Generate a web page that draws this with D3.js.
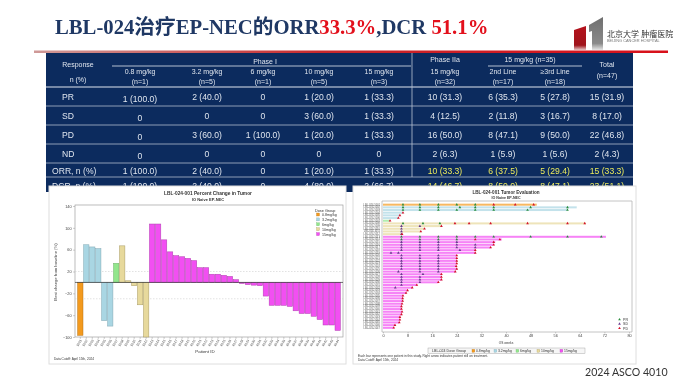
<!DOCTYPE html>
<html lang="zh">

<head>
    <meta charset="UTF-8">
    <title>LBL-024 EP-NEC</title>
    <script src="https://d3js.org/d3.v7.min.js"></script>
    <style>
        html, body { margin: 0; padding: 0; background: #fff; overflow: hidden; }
        svg { display: block; filter: blur(0.35px); }
        text { font-family: "Liberation Sans", "Noto Sans CJK SC", sans-serif; }
    </style>
</head>

<body>
    <script>
        // Table
        const tableColumns = ['0.8', '3.2', '6', '10', '15', 'IIa', '2L', '3L', 'Total'];
        const columnHeads = [
            ['0.8 mg/kg', '(n=1)'], ['3.2 mg/kg', '(n=5)'], ['6 mg/kg', '(n=1)'], ['10 mg/kg', '(n=5)'],
            ['15 mg/kg', '(n=3)'], ['15 mg/kg', '(n=32)'], ['2nd Line', '(n=17)'], ['≥3rd Line', '(n=18)'], ['Total', '(n=47)']
        ];
        const tableRowNames = ['PR', 'SD', 'PD', 'ND', 'ORR, n (%)', 'DCR, n (%)'];
        const rowPR = ['1 (100.0)', '2 (40.0)', '0', '1 (20.0)', '1 (33.3)', '10 (31.3)', '6 (35.3)', '5 (27.8)', '15 (31.9)'];
        const rowSD = ['0', '0', '0', '3 (60.0)', '1 (33.3)', '4 (12.5)', '2 (11.8)', '3 (16.7)', '8 (17.0)'];
        const rowPD = ['0', '3 (60.0)', '1 (100.0)', '1 (20.0)', '1 (33.3)', '16 (50.0)', '8 (47.1)', '9 (50.0)', '22 (46.8)'];
        const rowND = ['0', '0', '0', '0', '0', '2 (6.3)', '1 (5.9)', '1 (5.6)', '2 (4.3)'];
        const rowORR = ['1 (100.0)', '2 (40.0)', '0', '1 (20.0)', '1 (33.3)', '10 (33.3)', '6 (37.5)', '5 (29.4)', '15 (33.3)'];
        const rowDCR = ['1 (100.0)', '2 (40.0)', '0', '4 (80.0)', '2 (66.7)', '14 (46.7)', '8 (50.0)', '8 (47.1)', '23 (51.1)'];
        const tableRows = [rowPR, rowSD, rowPD, rowND, rowORR, rowDCR];

        // Waterfall (best change, %)
        const doseGroups = ['0.8mg/kg', '3.2mg/kg', '6mg/kg', '10mg/kg', '15mg/kg'];
        const bestChange = [-97, 69, 65, 62, -70, -80, 35, 67, 3, -6, -41, -100,
            107, 107, 78, 56, 49, 47, 44, 40, 27, 27, 15, 15, 13, 11, 5, -2, -4, -5, -6, -25,
            -42, -42, -42, -44, -52, -57, -57, -62, -68, -78, -78, -88];
        const bestDose = [0, 1, 1, 1, 1, 1, 2, 3, 3, 3, 3, 3,
            4, 4, 4, 4, 4, 4, 4, 4, 4, 4, 4, 4, 4, 4, 4, 4, 4, 4, 4, 4,
            4, 4, 4, 4, 4, 4, 4, 4, 4, 4, 4, 4];
        const yTicks = [-100, -60, -20, 20, 60, 100, 140];
        // the id labels cannot be read in the picture, these are stand-ins
        const patientIds = ['1001', '1002', '1003', '1004', '1005', '1006', '1007', '1008', '1009', '1010', '1011', '1012',
            '1013', '1014', '1015', '1016', '1017', '1018', '1019', '1020', '1021', '1022', '1023', '1024',
            '1025', '1026', '1027', '1028', '1029', '1030', '1031', '1032', '1033', '1034', '1035', '1036',
            '1037', '1038', '1039', '1040', '1041', '1042', '1043', '1044', '1045', '1046', '1047'];

        // Swimmer plot (weeks), row by row
        const swimWeeks = [50, 63, 60, 6.5, 5.5, 5, 2.3, 66, 19, 13.5, 12.3, 6.2,
            72.5, 38.6, 36.5, 36, 35, 30, 30, 24, 24, 24, 24, 23.8, 24, 23.5,
            19, 19, 19, 18, 11, 9.5, 8, 7.5, 6.5, 6.4, 6.4, 6.2, 6, 6, 6.2, 6, 5.5, 5.5, 5.3, 3.9, 3.5];
        const swimDose = [0, 1, 1, 1, 1, 1, 2, 3, 3, 3, 3, 3,
            4, 4, 4, 4, 4, 4, 4, 4, 4, 4, 4, 4, 4, 4, 4, 4, 4, 4, 4, 4, 4, 4, 4,
            4, 4, 4, 4, 4, 4, 4, 4, 4, 4, 4, 4];
        const marksPR = [[0, [6.5, 12, 18, 24, 30]], [1, [6.5, 12, 18, 25, 30, 36, 48, 60]], [2, [6.5, 12, 18, 24, 30, 36, 47, 60]],
            [7, [6.5, 13, 18.5]], [12, [6, 12, 18, 24, 30, 36, 48, 60, 71]], [13, [6, 12, 18, 24]]];
        const marksSD = [[8, [6, 12]], [9, [6]], [10, [6]], [11, [6]],
            [14, [6, 12, 18, 24]], [15, [6, 12, 18, 24, 30]], [16, [6, 12, 18, 24, 30]], [17, [6, 12, 18, 25]], [18, [2.6, 5]],
            [19, [6, 12, 18]], [20, [6, 12, 18]], [21, [6, 12, 18]], [22, [6, 12, 18]], [23, [6, 12, 18]], [24, [6, 12, 18]], [25, [5, 12, 18]],
            [26, [6, 13]], [27, [6, 12]], [28, [6, 12]], [29, [6, 12]], [30, [6]], [31, [4]]];
        const marksPD = [[0, [36, 43, 49]], [3, [6.5]], [4, [5.5]], [5, [5]], [6, [2.3]],
            [7, [23.4, 28, 35, 47, 60, 65.6]], [8, [19]], [9, [13.5]], [10, [12.3]], [11, [6.2]],
            [13, [30, 38]], [14, [36]], [15, [36]], [16, [35]], [17, [30]], [18, [30]], [19, [24]], [20, [24]], [21, [24]], [22, [24]], [23, [23.8]], [24, [24]], [25, [23.5]],
            [26, [19]], [27, [19]], [28, [19]], [29, [18]], [30, [11]], [31, [9.5]], [32, [8]], [33, [7.5]], [34, [6.5]], [35, [6.4]], [36, [6.4]],
            [37, [6.2]], [38, [6]], [39, [6]], [40, [6.2]], [41, [6]], [42, [5.5]], [43, [5.5]], [44, [5.3]], [45, [3.9]], [46, [3.5]]];
        const weekTicks = [0, 8, 16, 24, 32, 40, 48, 56, 64, 72, 80];
        const responseNames = ['PR', 'SD', 'PD'];

        const doseColor = d3.scaleOrdinal().domain(d3.range(5)).range(['#f39a1e', '#a9d6e3', '#92e68c', '#e7d99c', '#f24ff2']);
        const doseStroke = d3.scaleOrdinal().domain(d3.range(5)).range(['#b8741a', '#83a8b4', '#6fb26a', '#a89a62', '#b040b0']);
        const responseColor = d3.scaleOrdinal().domain(responseNames).range(['#2a8c3c', '#6a3d8f', '#d3122a']);

        const svg = d3.select('body').append('svg')
            .attr('width', 687)
            .attr('height', 383);

        const defs = svg.append('defs');
        const ruleGrad = defs.append('linearGradient').attr('id', 'ruleGrad');
        ruleGrad.append('stop').attr('offset', '0').attr('stop-color', '#cf9a98');
        ruleGrad.append('stop').attr('offset', '0.45').attr('stop-color', '#c8282c');
        ruleGrad.append('stop').attr('offset', '1').attr('stop-color', '#d8101a');
        const logoGrad = defs.append('linearGradient').attr('id', 'logoGrad').attr('x2', 0).attr('y2', 1);
        logoGrad.append('stop').attr('offset', '0').attr('stop-color', '#b5121c');
        logoGrad.append('stop').attr('offset', '0.8').attr('stop-color', '#a0141c');
        logoGrad.append('stop').attr('offset', '1').attr('stop-color', '#e6c8c8');
        const greyGrad = defs.append('linearGradient').attr('id', 'greyGrad').attr('x2', 0).attr('y2', 1);
        greyGrad.append('stop').attr('offset', '0').attr('stop-color', '#6f6f6f');
        greyGrad.append('stop').attr('offset', '0.8').attr('stop-color', '#8a8a8a');
        greyGrad.append('stop').attr('offset', '1').attr('stop-color', '#e6e6e6');

        // Slide title
        const title = svg.append('text')
            .attr('x', 55)
            .attr('y', 34)
            .attr('font-size', 20.7)
            .attr('font-weight', 'bold')
            .style('font-family', '"Liberation Serif", "Noto Sans CJK SC", serif')
            .attr('fill', '#1f3864');
        title.append('tspan').text('LBL-024治疗EP-NEC的ORR');
        title.append('tspan').attr('fill', '#e3101c').text('33.3%');
        title.append('tspan').text(',DCR ');
        title.append('tspan').attr('fill', '#e3101c').text('51.1%');

        // Logo
        svg.append('path').attr('d', 'M574 30L586 26V50H574Z').attr('fill', 'url(#logoGrad)');
        svg.append('path').attr('d', 'M589 25L603 17V50H592V31L589 32Z').attr('fill', 'url(#greyGrad)');
        svg.append('text').attr('x', 607).attr('y', 37).attr('font-size', 8).attr('fill', '#333').text('北京大学 肿瘤医院');
        svg.append('text').attr('x', 607).attr('y', 42).attr('font-size', 3.9).attr('fill', '#777').text('BEIJING CANCER HOSPITAL');

        // Red rule
        svg.append('rect').attr('x', 34).attr('y', 50.5).attr('width', 634).attr('height', 2.5).attr('fill', 'url(#ruleGrad)');

        // Table
        const columnX = d3.scaleOrdinal().domain(tableColumns).range([140, 207, 263, 319, 379, 445, 503, 555, 607]);
        const rowY = d3.scaleOrdinal().domain(tableRowNames).range([97, 116, 134.5, 154, 171, 185.5]);
        const table = svg.append('g');
        table.append('rect').attr('x', 46).attr('y', 53).attr('width', 587).attr('height', 139).attr('fill', '#0c2b5e');
        table.selectAll('line.sep')
            .data([87, 106, 125, 144, 163, 177])
            .enter()
            .append('line')
            .attr('x1', 46)
            .attr('x2', 633)
            .attr('y1', d => d)
            .attr('y2', d => d)
            .attr('stroke', (d, i) => i === 0 ? '#dfe6ef' : '#8d9db5')
            .attr('stroke-width', 1);
        table.append('line').attr('x1', 412).attr('x2', 412).attr('y1', 53).attr('y2', 177).attr('stroke', '#b9c4d4').attr('stroke-width', 0.8);
        table.append('line').attr('x1', 112).attr('x2', 411).attr('y1', 66).attr('y2', 66).attr('stroke', '#dfe6ef').attr('stroke-width', 0.8);
        table.append('line').attr('x1', 488).attr('x2', 582).attr('y1', 66).attr('y2', 66).attr('stroke', '#dfe6ef').attr('stroke-width', 0.8);

        const headText = (x, y, s) => table.append('text')
            .attr('x', x).attr('y', y)
            .attr('text-anchor', 'middle')
            .attr('font-size', 7)
            .attr('fill', '#dfe5ee')
            .text(s);
        headText(78, 67, 'Response');
        headText(78, 82, 'n (%)');
        headText(265, 64, 'Phase I');
        headText(445, 62, 'Phase IIa');
        headText(530, 62, '15 mg/kg  (n=35)');
        columnHeads.forEach((h, i) => {
            const last = i === columnHeads.length - 1;
            headText(columnX(tableColumns[i]), last ? 67 : 74, h[0]);
            headText(columnX(tableColumns[i]), last ? 78 : 84, h[1]);
        });

        table.selectAll('text.rowname')
            .data(tableRowNames)
            .enter()
            .append('text')
            .attr('x', (d, i) => i < 4 ? 62 : 52)
            .attr('y', d => rowY(d))
            .attr('dy', '0.35em')
            .attr('font-size', 8.6)
            .attr('fill', '#dfe5ee')
            .text(d => d);

        tableRows.forEach((values, r) => {
            table.selectAll(null)
                .data(values)
                .enter()
                .append('text')
                .attr('x', (d, i) => columnX(tableColumns[i]))
                .attr('y', (d, i) => rowY(tableRowNames[r]) + (i === 0 && r < 4 ? 2 : 0))
                .attr('dy', '0.35em')
                .attr('text-anchor', 'middle')
                .attr('font-size', 8.6)
                .attr('fill', (d, i) => r >= 4 && i >= 5 ? '#ecea5c' : '#dfe5ee')
                .text(d => d);
        });

        // Cards for the two figures
        [[49, 186, 297, 178], [353, 186, 283, 178]].forEach(c => {
            svg.append('rect')
                .attr('x', c[0]).attr('y', c[1]).attr('width', c[2]).attr('height', c[3])
                .attr('fill', '#fff')
                .attr('stroke', '#dedede')
                .attr('stroke-width', 1);
        });

        // Waterfall
        const xBar = d3.scaleBand().domain(patientIds.slice(0, bestChange.length)).range([77, 341]).padding(0.1);
        const yBar = d3.scaleLinear().domain([-100, 140]).range([337, 206]);
        const fall = svg.append('g');

        fall.append('rect').attr('x', 75).attr('y', 205).attr('width', 268).attr('height', 132)
            .attr('fill', 'none').attr('stroke', '#a0a0a0').attr('stroke-width', 0.7);
        [20, -30].forEach(v => {
            fall.append('line')
                .attr('x1', 75).attr('x2', 343)
                .attr('y1', yBar(v)).attr('y2', yBar(v))
                .attr('stroke', '#cfcfcf').attr('stroke-width', 0.6).attr('stroke-dasharray', '1.5,1.5');
        });

        fall.selectAll('rect.bar')
            .data(bestChange)
            .enter()
            .append('rect')
            .attr('class', 'bar')
            .attr('x', (d, i) => xBar(patientIds[i]))
            .attr('y', d => yBar(Math.max(d, 0)))
            .attr('width', xBar.bandwidth())
            .attr('height', d => Math.abs(yBar(d) - yBar(0)))
            .attr('fill', (d, i) => doseColor(bestDose[i]))
            .attr('stroke', (d, i) => doseStroke(bestDose[i]))
            .attr('stroke-width', 0.5);
        fall.append('line').attr('x1', 75).attr('x2', 343).attr('y1', yBar(0)).attr('y2', yBar(0)).attr('stroke', '#333').attr('stroke-width', 0.7);

        const yAxisBar = d3.axisLeft(yBar).tickValues(yTicks).tickSize(2).tickPadding(1.5);
        const gy = fall.append('g').attr('transform', 'translate(75,0)').call(yAxisBar);
        gy.selectAll('text').attr('font-size', 3.8).attr('fill', '#444');
        gy.selectAll('line').attr('stroke', '#888').attr('stroke-width', 0.4);
        gy.select('.domain').remove();

        const xAxisBar = d3.axisBottom(xBar).tickSize(2).tickPadding(1);
        const gx = fall.append('g').attr('transform', 'translate(0,337)').call(xAxisBar);
        gx.selectAll('text')
            .attr('font-size', 3.4)
            .attr('fill', '#555')
            .attr('text-anchor', 'end')
            .attr('dy', '0.3em')
            .attr('transform', 'rotate(-60) translate(-2,-1)');
        gx.selectAll('line').attr('stroke', '#888').attr('stroke-width', 0.4);
        gx.select('.domain').remove();

        const small = (g, x, y, s, size, anchor, weight) => g.append('text')
            .attr('x', x).attr('y', y)
            .attr('font-size', size)
            .attr('text-anchor', anchor || 'start')
            .attr('font-weight', weight || 'normal')
            .attr('fill', '#333')
            .text(s);

        small(fall, 208, 195, 'LBL-024-001 Percent Change in Tumor', 4.8, 'middle', 'bold');
        small(fall, 208, 200.5, 'IO Naive EP-NEC', 4, 'middle', 'bold');
        small(fall, 205, 353, 'Patient ID', 4.4, 'middle');
        small(fall, 54, 360, 'Data Cutoff: April 15th, 2024', 3.2);
        fall.append('text')
            .attr('transform', 'translate(57,272) rotate(-90)')
            .attr('text-anchor', 'middle')
            .attr('font-size', 4.2)
            .attr('fill', '#444')
            .text('Best change from baseline (%)');

        small(fall, 315, 211.5, 'Dose Group', 3.8);
        doseGroups.forEach((d, i) => {
            fall.append('rect')
                .attr('x', 316.5).attr('y', 213 + i * 4.9).attr('width', 3).attr('height', 3)
                .attr('fill', doseColor(i)).attr('stroke', doseStroke(i)).attr('stroke-width', 0.3);
            small(fall, 322, 216 + i * 4.9, d, 3.6);
        });

        // Swimmer
        const xSwim = d3.scaleLinear().domain([0, 80]).range([383, 629]);
        const ySwim = d3.scaleBand().domain(d3.range(swimWeeks.length)).range([203, 329.5]).padding(0.25);
        const swim = svg.append('g');

        swim.append('path')
            .attr('d', 'M382 201H632V332H382Z')
            .attr('fill', 'none')
            .attr('stroke', '#b5b5b5')
            .attr('stroke-width', 0.8);

        swim.selectAll('rect.swim')
            .data(swimWeeks)
            .enter()
            .append('rect')
            .attr('class', 'swim')
            .attr('x', xSwim(0))
            .attr('y', (d, i) => ySwim(i))
            .attr('width', d => xSwim(d) - xSwim(0))
            .attr('height', ySwim.bandwidth())
            .attr('fill', (d, i) => doseColor(swimDose[i]))
            .attr('fill-opacity', 0.7);

        swim.selectAll('text.row')
            .data(patientIds)
            .enter()
            .append('text')
            .attr('x', 380)
            .attr('y', (d, i) => ySwim(i) + ySwim.bandwidth() / 2)
            .attr('dy', '0.35em')
            .attr('text-anchor', 'end')
            .attr('font-size', 2.6)
            .attr('fill', '#555')
            .text(d => 'LBL-024-' + d);

        const triangle = d3.symbol().type(d3.symbolTriangle).size(3.2);
        const marks = [['PR', marksPR], ['SD', marksSD], ['PD', marksPD]].flatMap(([name, rows]) =>
            rows.flatMap(([row, weeks]) => weeks.map(w => ({ name, row, w }))));
        swim.selectAll('path.mark')
            .data(marks)
            .enter()
            .append('path')
            .attr('class', 'mark')
            .attr('d', triangle)
            .attr('transform', d => `translate(${xSwim(d.w)},${ySwim(d.row) + ySwim.bandwidth() / 2})`)
            .attr('fill', d => responseColor(d.name));

        const xAxisSwim = d3.axisBottom(xSwim).tickValues(weekTicks).tickSize(1.5).tickPadding(1);
        const gs = swim.append('g').attr('transform', 'translate(0,332)').call(xAxisSwim);
        gs.selectAll('text').attr('font-size', 3.8).attr('fill', '#444');
        gs.selectAll('line').attr('stroke', '#888').attr('stroke-width', 0.4);
        gs.select('.domain').remove();

        small(swim, 506, 193.5, 'LBL-024-001 Tumor Evaluation', 4.6, 'middle', 'bold');
        small(swim, 506, 198.5, 'IO Naive EP-NEC', 3.6, 'middle', 'bold');
        small(swim, 506, 343.5, 'OS weeks', 3.2, 'middle');
        small(swim, 358, 357, 'Each bar represents one patient in this study. Right arrow indicates patient still on treatment.', 3.2);
        small(swim, 358, 361, 'Data Cutoff: April 15th, 2024', 3.2);

        responseNames.forEach((name, i) => {
            swim.append('path')
                .attr('d', triangle)
                .attr('transform', `translate(619.5,${319.5 + i * 4.4})`)
                .attr('fill', responseColor(name));
            small(swim, 623, 321 + i * 4.4, name, 3.6);
        });

        // Bottom dose legend
        swim.append('rect').attr('x', 428).attr('y', 348).attr('width', 157).attr('height', 5.5)
            .attr('fill', '#f6f6f6').attr('stroke', '#999').attr('stroke-width', 0.4);
        small(swim, 432, 352.2, 'LBL-024 Dose Group', 3.6);
        const legendX = d3.scaleOrdinal().domain(doseGroups).range([472, 494, 516, 537, 560]);
        doseGroups.forEach((d, i) => {
            swim.append('rect')
                .attr('x', legendX(d)).attr('y', 349.4).attr('width', 2.8).attr('height', 2.8)
                .attr('fill', doseColor(i)).attr('stroke', doseStroke(i)).attr('stroke-width', 0.3);
            small(swim, legendX(d) + 4, 352.2, d, 3.4);
        });

        // Footer
        svg.append('text')
            .attr('x', 585)
            .attr('y', 376)
            .attr('font-size', 10.6)
            .attr('fill', '#333')
            .style('font-family', 'Lato, sans-serif')
            .text('2024 ASCO 4010');
    </script>
</body>

</html>
